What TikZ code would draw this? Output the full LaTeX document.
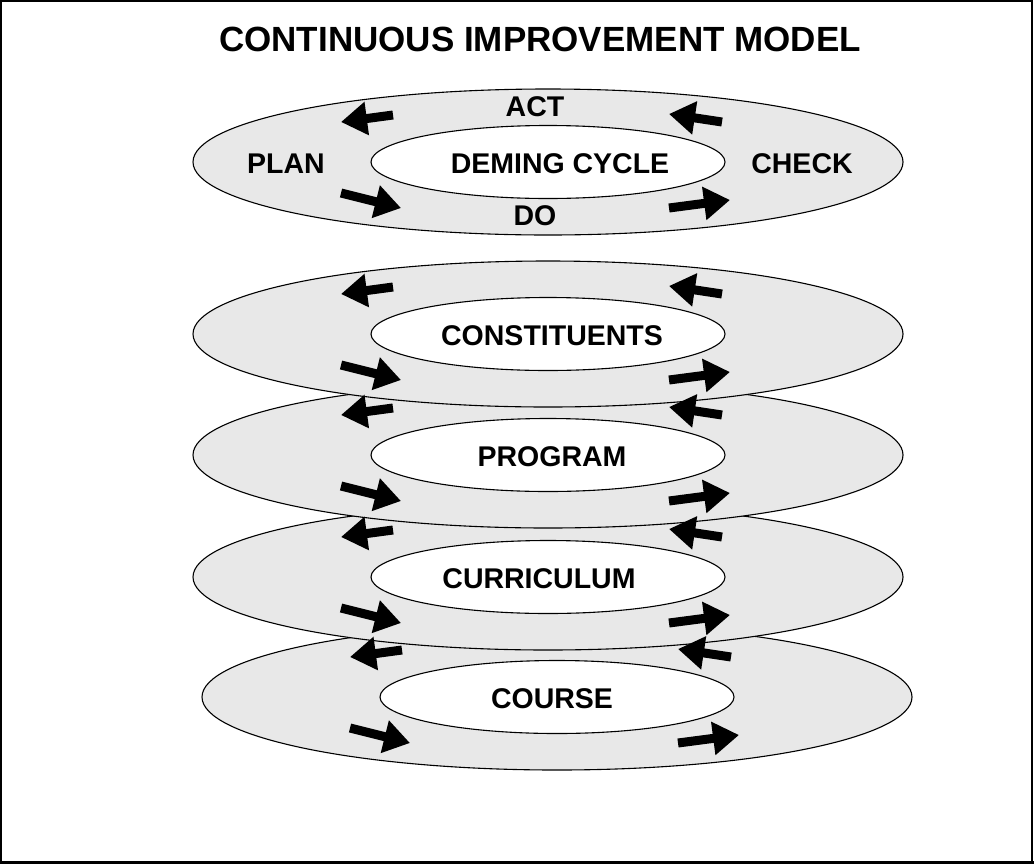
\documentclass[tikz,border=0pt]{standalone}
\usepackage{fontspec}
\setmainfont{Liberation Sans}
\usetikzlibrary{shapes.geometric,arrows.meta,positioning}

\tikzstyle{ring}=[ellipse,draw=black,fill=black!9,line width=1.1pt,minimum width=710pt,minimum height=146pt,inner sep=0pt]
\tikzstyle{hub}=[ellipse,draw=black,fill=white,line width=1.1pt,minimum width=354pt,minimum height=73pt,inner sep=0pt]
\tikzstyle{word}=[inner sep=0pt,font=\fontsize{28.5}{32}\selectfont\bfseries]
\tikzstyle{heading}=[inner sep=0pt,font=\fontsize{35}{40}\selectfont\bfseries]
\tikzstyle{turn}=[-{Triangle[length=26pt,width=32pt]},line width=9pt]

\begin{document}
\begin{tikzpicture}[x=1pt,y=-1pt]
        \useasboundingbox (0,0) rectangle (1035,865);
        \draw[line width=2pt] (1,1) rectangle (1032,862);
        \draw[line width=3.5pt] (0,862.5) -- (1034,862.5);

        \node[heading] (title) at (540,39) {CONTINUOUS IMPROVEMENT MODEL};

        % lowest ring first, so each upper ring lies over the one below
        \node[ring] (course)                                                   at (557,697) {};
        \node[ring] (curriculum)   [above of=course,       node distance=120pt, xshift=-9pt] {};
        \node[ring] (program)      [above of=curriculum,   node distance=122pt] {};
        \node[ring] (constituents) [above of=program,      node distance=121pt] {};
        \node[ring] (deming)       [above of=constituents, node distance=172pt] {};

        \foreach \r in {deming,constituents,program,curriculum,course}
         \node[hub] (\r hub) at (\r) {};

        \node[word] (deminglabel)       at ([xshift=12pt,yshift=-2pt]deminghub)      {DEMING CYCLE};
        \node[word] (constituentslabel) at ([xshift=4pt,yshift=-2pt]constituentshub) {CONSTITUENTS};
        \node[word] (programlabel)      at ([xshift=4pt,yshift=-2pt]programhub)      {PROGRAM};
        \node[word] (curriculumlabel)   at ([xshift=-9pt,yshift=-2pt]curriculumhub)  {CURRICULUM};
        \node[word] (courselabel)       at ([xshift=-5pt,yshift=-2pt]coursehub)      {COURSE};

        \node[word] (act)   [above of=deming, node distance=55pt, xshift=-13pt] {ACT};
        \node[word] (do)    [below of=deming, node distance=54pt, xshift=-13pt] {DO};
        \node[word] (plan)  [left of=deming,  node distance=262pt, yshift=-2pt] {PLAN};
        \node[word] (check) [right of=deming, node distance=254pt, yshift=-2pt] {CHECK};

        % four turning arrows on every ring
        \foreach \r in {deming,constituents,program,curriculum,course} {
         \draw[turn] ([shift={(-155,-47)}]\r.center) -- ([shift={(-207,-40)}]\r.center);
         \draw[turn] ([shift={(174,-40)}]\r.center)  -- ([shift={(121,-48)}]\r.center);
         \draw[turn] ([shift={(-207,31)}]\r.center)  -- ([shift={(-147,46)}]\r.center);
         \draw[turn] ([shift={(121,46)}]\r.center)   -- ([shift={(182,38)}]\r.center);
        }
\end{tikzpicture}
\end{document}
